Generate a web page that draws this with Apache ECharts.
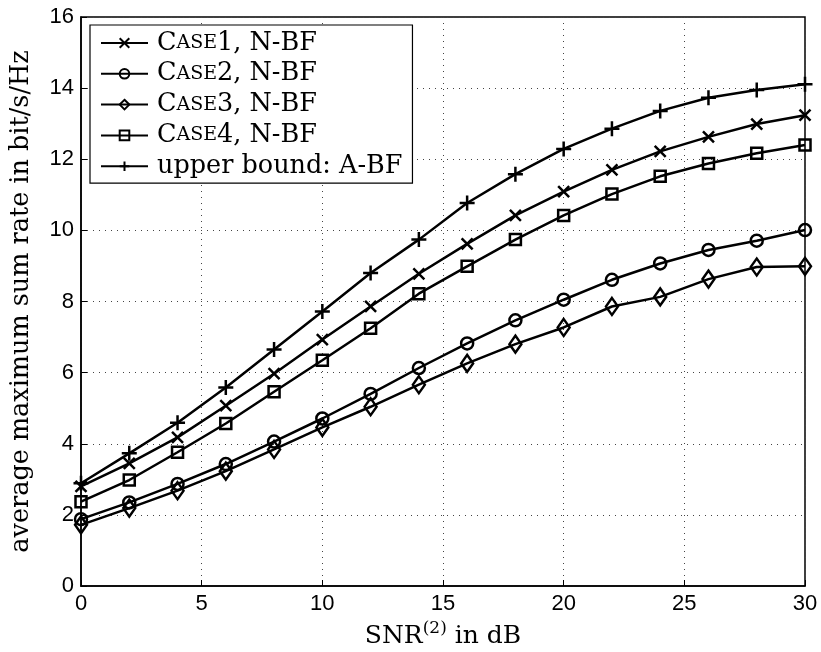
<!DOCTYPE html>
<html>
<head>
<meta charset="utf-8">
<script src="https://cdn.jsdelivr.net/npm/echarts@6/dist/echarts.min.js"></script>
<style>html,body{margin:0;padding:0;background:#fff;}#c{width:821px;height:652px;}</style>
</head>
<body>
<div id="c"></div>
<script>
const snr = [0, 2, 4, 6, 8, 10, 12, 14, 16, 18, 20, 22, 24, 26, 28, 30];
const case1 = [2.80, 3.45, 4.18, 5.07, 5.97, 6.93, 7.86, 8.78, 9.62, 10.42, 11.09, 11.70, 12.22, 12.63, 12.99, 13.24];
const case2 = [1.88, 2.35, 2.87, 3.43, 4.06, 4.71, 5.40, 6.13, 6.82, 7.47, 8.05, 8.61, 9.07, 9.45, 9.71, 10.01];
const case3 = [1.72, 2.19, 2.68, 3.23, 3.84, 4.46, 5.04, 5.66, 6.26, 6.80, 7.27, 7.86, 8.13, 8.63, 8.97, 8.99];
const case4 = [2.37, 2.98, 3.76, 4.57, 5.46, 6.35, 7.25, 8.22, 8.99, 9.74, 10.42, 11.02, 11.52, 11.88, 12.17, 12.40];
const upper = [2.89, 3.73, 4.59, 5.58, 6.65, 7.72, 8.80, 9.74, 10.77, 11.58, 12.29, 12.86, 13.36, 13.73, 13.95, 14.11];
const seriesNames = ['Case1, N-BF', 'Case2, N-BF', 'Case3, N-BF', 'Case4, N-BF', 'upper bound: A-BF'];
const xTicks = [0, 5, 10, 15, 20, 25, 30];
const yTicks = [0, 2, 4, 6, 8, 10, 12, 14, 16];

const serif = '"DejaVu Serif", "Liberation Serif", serif';
const sans = '"Liberation Sans", Arial, sans-serif';

const symbols = [
  {symbol: 'path://M0,0L10,10M10,0L0,10', size: 11},
  {symbol: 'circle', size: 12},
  {symbol: 'diamond', size: [12, 17]},
  {symbol: 'rect', size: 11},
  {symbol: 'path://M5,0L5,10M0,5L10,5', size: 15}
];
const datasets = [case1, case2, case3, case4, upper];

const chart = echarts.init(document.getElementById('c'), null, {renderer: 'canvas'});
const series = datasets.map((d, i) => ({
  name: seriesNames[i],
  type: 'line',
  data: snr.map((x, j) => [x, d[j]]),
  symbol: symbols[i].symbol,
  symbolSize: symbols[i].size,
  showAllSymbol: true,
  lineStyle: {color: '#000', width: 2.5},
  itemStyle: {color: 'rgba(0,0,0,0)', borderColor: '#000', borderWidth: 2.5},
  emphasis: {disabled: true},
  animation: false,
  z: 3
}));

function legendFmt(name) {
  const m = name.match(/^Case(\d.*)$/);
  if (m) return '{c0|C}{s|ASE}{c|' + m[1] + '}';
  return '{c0|' + name + '}';
}

chart.setOption({
  backgroundColor: '#fff',
  animation: false,
  grid: {left: 81, right: 16, top: 17, bottom: 66, show: true, borderColor: '#000', borderWidth: 1.5, backgroundColor: '#fff', containLabel: false, outerBoundsMode: 'none'},
  legend: {
    data: seriesNames,
    left: 90, top: 25,
    orient: 'vertical',
    itemWidth: 47, itemHeight: 12, itemGap: 4.8,
    padding: [5, 10, 4, 10],
    backgroundColor: '#fff',
    borderColor: '#000', borderWidth: 1.2, borderRadius: 0,
    formatter: legendFmt,
    textStyle: {
      color: '#000', fontFamily: serif, fontSize: 25.5,
      rich: {
        c0: {fontSize: 25.5, fontFamily: serif, color: '#000', lineHeight: 26, padding: [0, 0, 0, 4]},
        c: {fontSize: 25.5, fontFamily: serif, color: '#000', lineHeight: 26},
        s: {fontSize: 19, fontFamily: serif, color: '#000', lineHeight: 26}
      }
    },
    selectedMode: false
  },
  xAxis: {
    type: 'value', min: 0, max: 30, interval: 5,
    name: '{a|SNR}{s|(2)}{a| in dB}',
    nameLocation: 'middle', nameGap: 30,
    nameTextStyle: {rich: {a: {fontSize: 25, fontFamily: serif, color: '#000', verticalAlign: 'bottom'}, s: {fontSize: 17, fontFamily: serif, color: '#000', verticalAlign: 'top', padding: [0, 0, 12, 0]}}},
    axisLine: {show: true, lineStyle: {color: '#000', width: 1.5}},
    axisTick: {show: true, inside: true, length: 6, lineStyle: {color: '#000'}},
    axisLabel: {fontSize: 22, fontFamily: sans, color: '#000', margin: 7},
    splitLine: {show: true, lineStyle: {color: '#444', type: [1, 5], width: 1}}
  },
  yAxis: {
    type: 'value', min: 0, max: 16, interval: 2,
    name: 'average maximum sum rate in bit/s/Hz',
    nameLocation: 'middle', nameGap: 47,
    nameTextStyle: {fontSize: 25.5, fontFamily: serif, color: '#000'},
    axisLine: {show: true, lineStyle: {color: '#000', width: 1.5}},
    axisTick: {show: true, inside: true, length: 6, lineStyle: {color: '#000'}},
    axisLabel: {fontSize: 22, fontFamily: sans, color: '#000', margin: 7},
    splitLine: {show: true, lineStyle: {color: '#444', type: [1, 5], width: 1}}
  },
  series: series
});
</script>
</body>
</html>
